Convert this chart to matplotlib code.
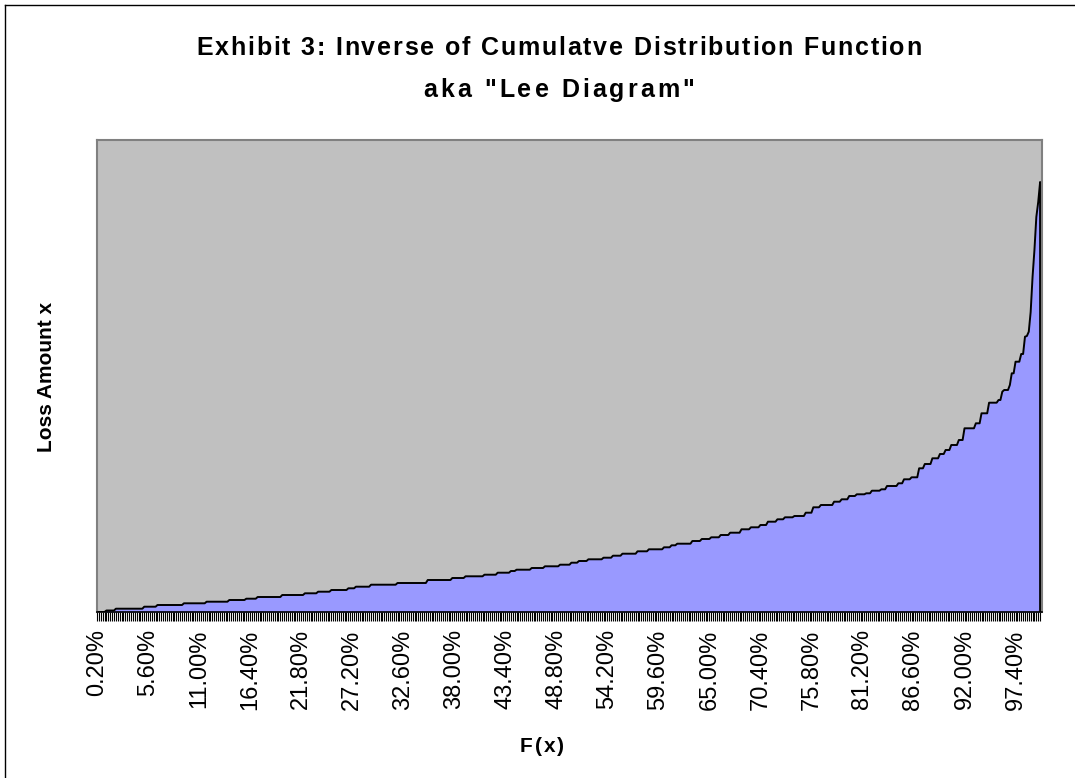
import numpy as np
import matplotlib
matplotlib.use("Agg")
import matplotlib.pyplot as plt
from matplotlib.lines import Line2D

# ---------------- data ----------------
title_line1 = "Exhibit 3: Inverse of Cumulatve Distribution Function"
title_line2 = 'aka "Lee Diagram"'
x_title = "F(x)"
y_title = "Loss Amount x"

n_points = 500                      # categories 0.20% ... 100.00%
category_pct = [0.2 * (i + 1) for i in range(n_points)]
label_every = 27                    # a tick label every 27 categories

# staircase of sorted losses: index where each level starts, and the level
step_starts = [0, 5, 10, 25, 32, 46, 58, 70, 79, 85, 98, 110, 117, 124, 133,
               137, 145, 159, 175, 188, 195, 205, 212, 219, 222, 230, 237,
               245, 251, 255, 260, 268, 273, 278, 286, 292, 300, 304, 307,
               315, 320, 325, 330, 335, 341, 346, 351, 355, 360, 364, 369,
               375, 379, 383, 390, 394, 398, 402, 407, 410, 415, 418, 424,
               427, 431, 435, 438, 442, 446, 449, 452, 456, 459, 465, 468,
               472, 477, 479, 480, 483, 484, 486, 489, 491, 492, 493, 494,
               495, 496, 497, 498, 499]
step_values = [0, 1.5, 3.3, 5.3, 7, 8.7, 10.3, 12, 13.3, 15, 17, 18.7, 20.3,
               22, 23.7, 25.3, 27.3, 29, 32, 34, 35.7, 37.3, 39.3, 41, 42.3,
               44, 45.7, 47.3, 49.3, 51, 52.7, 54.3, 56.3, 58.3, 60.7, 62.7,
               64.7, 66.7, 68.3, 71, 73, 74.7, 77, 79.3, 82.7, 84.7, 87, 90.3,
               92.7, 94.7, 96, 99.3, 104.7, 107, 110.3, 112.7, 116, 117.7,
               118.7, 121.3, 122.7, 126, 128.7, 132.7, 134.7, 143.7, 148,
               153.7, 158, 162, 167, 172, 183.7, 188.7, 198.7, 209.3, 212,
               220.3, 222, 227, 238.7, 250.3, 258, 275.3, 276, 280.3, 300,
               335, 362, 395, 410, 430]
y_max = 472

run_lengths = np.diff(step_starts + [n_points])
loss = np.repeat(step_values, run_lengths)

# ---------------- figure ----------------
W, H = 1075, 778
fig = plt.figure(figsize=(W / 100, H / 100), dpi=100)
fig.patch.set_facecolor("white")
FONT = "Liberation Sans"

L, R, T, B = 97, 1042, 140, 612
ax = fig.add_axes([L / W, 1 - B / H, (R - L) / W, (B - T) / H])
ax.set_facecolor("#C0C0C0")

x = np.arange(n_points)
ax.fill_between(x, 0, loss, color="#9999FF", lw=0)
ax.plot(np.append(x, x[-1]), np.append(loss, 0), color="black", lw=1.4)

ax.set_xlim(0, n_points)
ax.set_ylim(0, y_max)
ax.set_yticks([])
ax.set_xticks(x)
labels = [f"{p:.2f}%" if i % label_every == 0 else "" for i, p in enumerate(category_pct)]
ax.set_xticklabels(labels, rotation=90, fontsize=17, family=FONT, va="top")
ax.tick_params(axis="x", length=6.5, width=0.8, direction="out", pad=6, color="black")

for s in ["left", "top", "right"]:
    ax.spines[s].set_color("#808080")
    ax.spines[s].set_linewidth(1.5)
ax.spines["bottom"].set_color("black")
ax.spines["bottom"].set_linewidth(1.2)

# outer chart frame (extends beyond the crop on right/bottom)
fig.add_artist(Line2D([5 / W, 5 / W], [0, 1 - 5 / H], transform=fig.transFigure, color="black", lw=1))
fig.add_artist(Line2D([5 / W, 1], [1 - 5 / H, 1 - 5 / H], transform=fig.transFigure, color="black", lw=1))

renderer = fig.canvas.get_renderer()


def text_width(s, size, weight):
    t = fig.text(0, 0, s, fontsize=size, fontweight=weight, family=FONT)
    w = t.get_window_extent(renderer).width
    t.remove()
    return w


def spaced_text(s, xc, y_base, size, spacing, weight="bold"):
    base = text_width("||", size, weight)
    adv = [text_width("|" + c + "|", size, weight) - base for c in s]
    total = sum(adv) + spacing * (len(s) - 1)
    xp = xc - total / 2
    for c, a in zip(s, adv):
        if c != " ":
            fig.text(xp / W, 1 - y_base / H, c, fontsize=size, fontweight=weight,
                     family=FONT, ha="left", va="baseline")
        xp += a + spacing


spaced_text(title_line1, 559, 55, 18, 1.8)
spaced_text(title_line2, 559, 97, 18, 3.0)
spaced_text(x_title, 542, 752, 15, 2.0)
fig.text(47 / W, 1 - 377 / H, y_title, rotation=90, fontsize=15, fontweight="bold",
         family=FONT, ha="center", va="center")

fig.savefig("out.png", dpi=100, facecolor="white")
